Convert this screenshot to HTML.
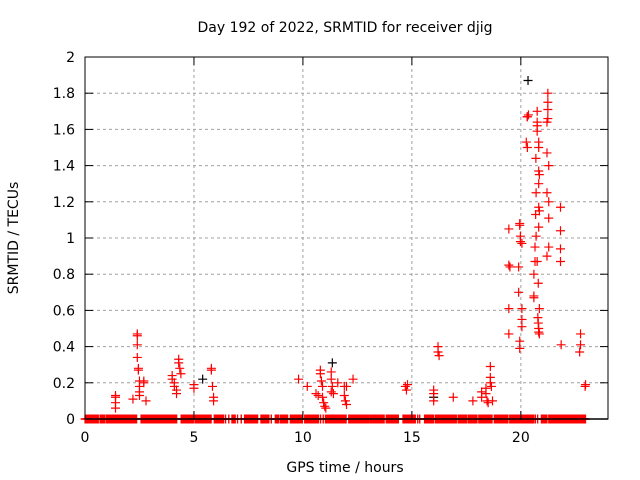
<!DOCTYPE html>
<html><head><meta charset="utf-8"><style>
body{margin:0;background:#fff}
svg{display:block;font-family:"DejaVu Sans","Liberation Sans",sans-serif}
</style></head><body>
<svg id="c" width="640" height="480">
<text x="345" y="32" font-size="14" text-anchor="middle">Day 192 of 2022, SRMTID for receiver djig</text>
<text x="345" y="472" font-size="14" text-anchor="middle">GPS time / hours</text>
<text x="0" y="0" font-size="14" text-anchor="middle" transform="translate(18,238) rotate(-90)">SRMTID / TECUs</text>
<g id="grid"></g>
<g id="pts"></g>
<g id="axes"></g>
<rect x="85" y="57" width="523" height="362" fill="none" stroke="#000"/>
</svg>
<script>
const xTicks=[0,5,10,15,20];
const yTicks=[0,0.2,0.4,0.6,0.8,1,1.2,1.4,1.6,1.8,2];
const yTickLabels=["0","0.2","0.4","0.6","0.8","1","1.2","1.4","1.6","1.8","2"];
const redTimes=[1.4,1.4,1.4,1.4,2.2,2.4,2.4,2.4,2.4,2.45,2.45,2.5,2.5,2.5,2.5,2.7,2.7,2.8,4.0,4.0,4.1,4.1,4.2,4.2,4.3,4.3,4.35,4.4,5.0,5.0,5.8,5.8,5.85,5.9,5.9,9.8,10.2,10.6,10.7,10.8,10.8,10.85,10.9,10.9,10.95,11.0,11.05,11.3,11.3,11.35,11.3,11.4,11.6,11.9,11.9,11.95,12.0,12.0,12.3,14.7,14.75,14.8,16.0,16.0,16.0,16.2,16.2,16.25,16.9,17.8,18.2,18.2,18.4,18.4,18.45,18.5,18.6,18.6,18.6,18.65,18.7,20.3,21.24,21.24,20.75,21.24,20.29,20.35,21.24,21.2,20.75,20.75,20.75,20.25,20.3,20.82,20.82,21.2,20.69,21.28,20.82,20.85,20.82,20.7,21.2,21.28,21.82,20.82,20.85,20.68,21.28,19.45,19.95,19.95,19.98,19.98,20.05,20.82,20.7,21.82,20.65,21.28,21.82,21.2,20.65,20.75,21.82,19.45,19.5,19.9,20.6,20.8,19.9,20.6,20.6,19.45,20.05,20.85,20.78,20.8,20.05,20.05,20.82,20.82,20.85,19.45,19.95,19.95,21.85,22.74,22.74,22.7,22.97,22.95];
const redValues=[0.12,0.09,0.06,0.13,0.11,0.47,0.46,0.41,0.34,0.28,0.27,0.21,0.18,0.15,0.13,0.2,0.21,0.1,0.24,0.22,0.2,0.18,0.16,0.14,0.33,0.31,0.28,0.25,0.19,0.17,0.28,0.27,0.18,0.12,0.1,0.22,0.18,0.14,0.13,0.27,0.25,0.21,0.18,0.12,0.09,0.07,0.06,0.26,0.22,0.18,0.15,0.14,0.2,0.18,0.13,0.1,0.08,0.18,0.22,0.18,0.16,0.19,0.16,0.14,0.1,0.4,0.37,0.35,0.12,0.1,0.15,0.12,0.17,0.14,0.1,0.09,0.29,0.23,0.2,0.18,0.1,1.67,1.80,1.75,1.70,1.71,1.67,1.68,1.66,1.64,1.64,1.62,1.59,1.53,1.50,1.53,1.50,1.47,1.44,1.40,1.37,1.35,1.30,1.25,1.25,1.20,1.17,1.17,1.15,1.13,1.11,1.05,1.08,1.07,1.01,0.98,0.97,1.06,1.01,1.04,0.95,0.95,0.94,0.90,0.87,0.87,0.87,0.85,0.84,0.84,0.80,0.75,0.70,0.68,0.67,0.61,0.61,0.61,0.56,0.53,0.55,0.51,0.50,0.48,0.47,0.47,0.43,0.39,0.41,0.47,0.41,0.37,0.19,0.18];
const blackTimes=[20.33,11.35,5.4,16.0];
const blackValues=[1.87,0.31,0.22,0.12];
const zeroSegStart=[0,0.69,0.96,2.57,4.41,5.05,5.93,6.45,6.6,6.74,7.0,7.17,7.32,8.07,8.55,8.73,8.96,9.42,10.08,10.81,10.93,11.03,12.1,12.63,13.09,13.82,14.59,15.27,15.36,15.58,16.08,17.12,17.6,18.07,18.78,19.49,20.67,20.77,20.94,21.28];
const zeroSegEnd=[0.61,0.89,2.37,4.21,4.98,5.79,6.36,6.45,6.6,6.89,7.0,7.17,7.92,8.44,8.55,8.88,9.3,9.98,10.72,10.81,10.93,11.98,12.86,13.04,13.73,14.38,15.16,15.27,15.36,16.0,17.04,17.53,17.99,18.68,19.41,20.59,20.67,20.77,21.2,22.97];
const X0=85,X1=608,Y0=419,Y1=57;
const xs=t=>X0+t/24*(X1-X0);
const ys=v=>Y0-v/2*(Y0-Y1);
const NS="http://www.w3.org/2000/svg";
function mk(tag,attrs,parent){const e=document.createElementNS(NS,tag);for(const k in attrs)e.setAttribute(k,attrs[k]);parent.appendChild(e);return e;}
const grid=document.getElementById('grid'),axes=document.getElementById('axes'),pts=document.getElementById('pts');
yTicks.forEach((v,i)=>{const y=ys(v);
 if(i>0&&i<yTicks.length-1){const g=mk('line',{x1:X0,x2:X1,y1:y,y2:y,stroke:'#a0a0a0','stroke-dasharray':'3,3'},grid);
 
 }
 mk('line',{x1:X0,x2:X0+8,y1:y,y2:y,stroke:'#000'},axes);
 mk('line',{x1:X1,x2:X1-8,y1:y,y2:y,stroke:'#000'},axes);
 const t=mk('text',{x:X0-10,y:y+5,'font-size':14,'text-anchor':'end'},axes);t.textContent=yTickLabels[i];
 
 
});
xTicks.forEach(h=>{const x=xs(h);
 if(h>0){const g=mk('line',{x1:x,x2:x,y1:Y1,y2:Y0,stroke:'#a0a0a0','stroke-dasharray':'3,3'},grid);
 
 }
 mk('line',{x1:x,x2:x,y1:Y0,y2:Y0-8,stroke:'#000'},axes);
 mk('line',{x1:x,x2:x,y1:Y1,y2:Y1+8,stroke:'#000'},axes);
 const t=mk('text',{x:x,y:Y0+23,'font-size':14,'text-anchor':'middle'},axes);t.textContent=String(h);
 
 
});
function plus(t,v,col){const x=xs(t),y=ys(v);
 const p=mk('path',{d:`M${x-4.5},${y}H${x+4.5}M${x},${y-4.5}V${y+4.5}`,stroke:col,'stroke-width':1.2,fill:'none'},pts);
 
 }
zeroSegStart.forEach((s,i)=>{const e=zeroSegEnd[i];for(let t=s;t<=e+1e-6;t+=0.025)plus(t,0,'#ff0000');plus(e,0,'#ff0000');});
blackTimes.forEach((t,i)=>plus(t,blackValues[i],'#000'));
redTimes.forEach((t,i)=>plus(t,redValues[i],'#ff0000'));
const bl=mk('line',{x1:X0,x2:X1,y1:Y0,y2:Y0,stroke:'#000','stroke-width':1.5},axes);


</script>
</body></html>
